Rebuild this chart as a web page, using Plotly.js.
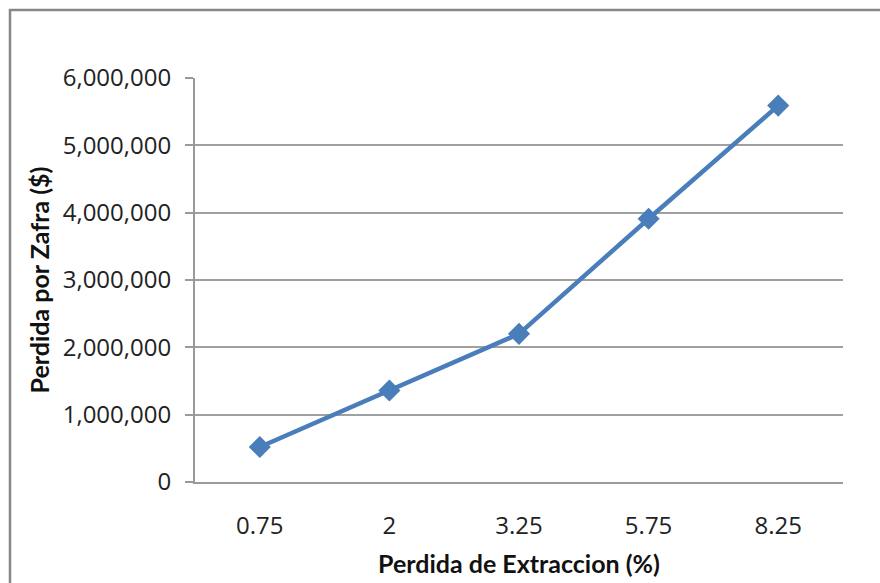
<!DOCTYPE html>
<html>
<head>
<meta charset="utf-8">
<script src="https://cdn.plot.ly/plotly-3.0.1.min.js"></script>
<style>
html,body{margin:0;padding:0;background:#fff;}
#chart{width:880px;height:583px;}
</style>
</head>
<body>
<div id="chart"></div>
<script>
var categories = ["0.75", "2", "3.25", "5.75", "8.25"];
var perdidaZafra = [520000, 1360000, 2200000, 3910000, 5590000];
var yTickVals = [0, 1000000, 2000000, 3000000, 4000000, 5000000, 6000000];
var yTickText = ["0", "1,000,000", "2,000,000", "3,000,000", "4,000,000", "5,000,000", "6,000,000"];

var TICKFONT = "'Open Sans', sans-serif";
var TITLEFONT = "Lato, 'Open Sans', sans-serif";
var trace = {
  x: categories,
  y: perdidaZafra,
  type: "scatter",
  mode: "lines+markers",
  line: {color: "#4A7EBB", width: 4.5},
  marker: {symbol: "diamond", size: 17, color: "#4A7EBB"},
  hoverinfo: "x+y"
};

var layout = {
  width: 880, height: 583,
  margin: {l: 195, r: 37, t: 78, b: 101, pad: 0},
  paper_bgcolor: "#ffffff",
  plot_bgcolor: "#ffffff",
  showlegend: false,
  font: {family: TICKFONT, size: 24, color: "#222"},
  xaxis: {
    type: "category",
    range: [-0.5, 4.5],
    showgrid: false,
    showline: true, linecolor: "#9a9a9a", linewidth: 2,
    ticks: "", ticklabelstandoff: 21,
    tickfont: {family: TICKFONT, size: 24, color: "#222"},
    title: {text: "Perdida de Extraccion (%)", font: {family: TITLEFONT, size: 25, color: "#111", weight: "bold"}, standoff: 16},
    zeroline: false
  },
  yaxis: {
    range: [0, 6000000],
    tickvals: yTickVals, ticktext: yTickText,
    showgrid: true, gridcolor: "#a0a0a0", gridwidth: 2,
    showline: true, linecolor: "#9a9a9a", linewidth: 2,
    ticks: "outside", ticklen: 8, tickwidth: 2, tickcolor: "#9a9a9a",
    ticklabelstandoff: 9,
    tickfont: {family: TICKFONT, size: 24, color: "#222"},
    title: {text: "Perdida por Zafra ($)", font: {family: TITLEFONT, size: 25, color: "#111", weight: "bold"}, standoff: 6},
    zeroline: false
  },
  shapes: [{
    type: "rect", xref: "paper", yref: "paper",
    x0: -0.2855, x1: 1.07, y0: -0.3, y1: 1.1684,
    line: {color: "#878787", width: 2.5}, fillcolor: "rgba(0,0,0,0)", layer: "below"
  }]
};

Plotly.newPlot("chart", [trace], layout, {displayModeBar: false, staticPlot: true});
</script>
</body>
</html>
